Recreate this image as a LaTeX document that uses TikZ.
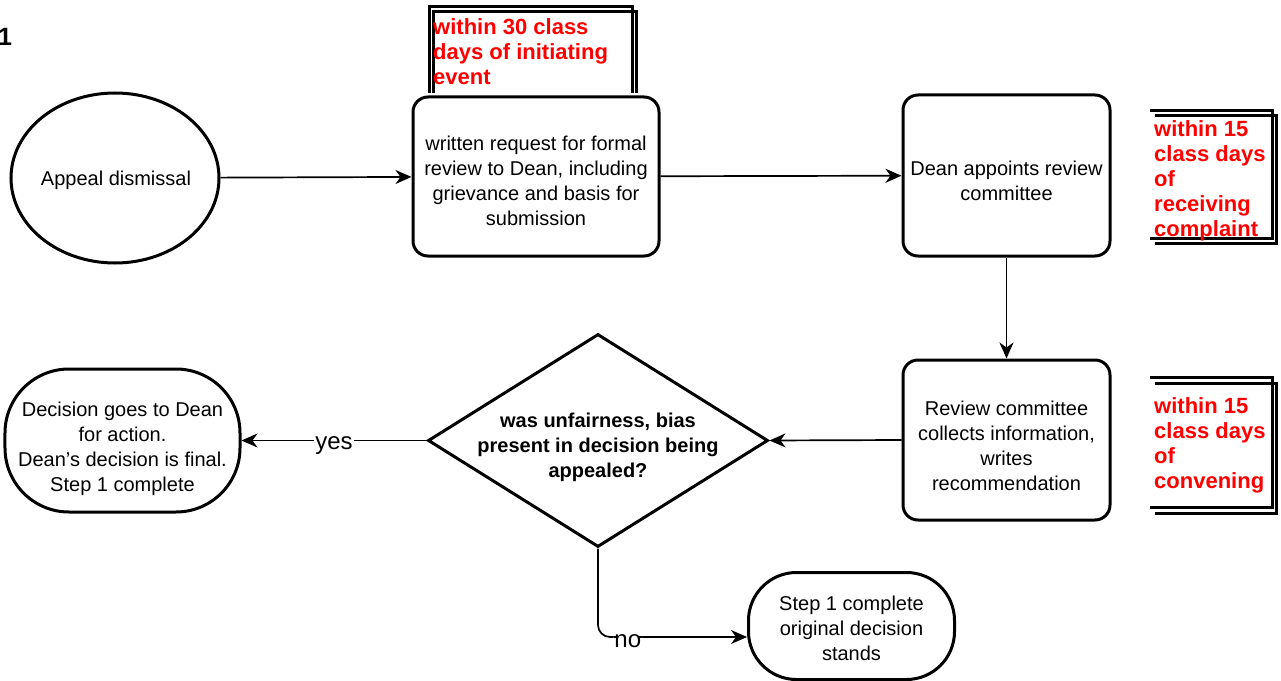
\documentclass[tikz,border=0pt]{standalone}
\usepackage{fontspec}
\setmainfont{Liberation Sans}
\usetikzlibrary{shapes.geometric,arrows.meta}
\begin{document}
\begin{tikzpicture}[x=1bp,y=-1bp,
  fig/.style={draw, line width=3bp, inner sep=0pt},
  roundbox/.style={fig, rectangle, rounded corners=15bp},
  body/.style={align=center, inner sep=0pt, font=\fontsize{20bp}{25bp}\selectfont},
  note/.style={text=red, font=\bfseries\fontsize{22bp}{25bp}\selectfont, align=left, anchor=west, inner sep=0pt},
  noteline/.style={line width=3bp},
  arr/.style={line width=1.7bp, -{Stealth[length=16bp,width=14bp,inset=5bp]}},
  lbl/.style={fill=white, inner sep=1bp, font=\fontsize{24bp}{28bp}\selectfont}]
\useasboundingbox (0,0) rectangle (1281,681);
\fill[white] (0,0) rectangle (1281,681);

\node[font=\bfseries\fontsize{25bp}{28bp}\selectfont, anchor=west, inner sep=0pt] (num) at (-2,37) {1};

% shapes
\node[fig, ellipse, minimum width=208bp, minimum height=170bp] (appeal) at (115,178) {};
\node[body] (appealt) at (116,180) {Appeal dismissal};
\node[roundbox, minimum width=246bp, minimum height=159bp] (req) at (536,176.5) {};
\node[body] (reqt) at (536,181)
  {written request for formal\\review to Dean, including\\grievance and basis for\\submission};
\node[roundbox, minimum width=207bp, minimum height=161bp] (dean) at (1006.5,175.5) {};
\node[body] (deant) at (1006.5,181) {Dean appoints review\\committee};
\node[roundbox, minimum width=207bp, minimum height=160bp] (rev) at (1006.5,440) {};
\node[body] (revt) at (1006.5,446) {Review committee\\collects information,\\writes\\recommendation};
\node[fig, diamond, minimum width=340bp, minimum height=213bp] (q) at (598,440.5) {};
\node[body, font=\bfseries\fontsize{20bp}{25bp}\selectfont] (qt) at (598,447)
  {was unfairness, bias\\present in decision being\\appealed?};
\node[fig, rectangle, rounded corners=64bp, minimum width=235bp, minimum height=143bp] (yesb) at (122.5,440.5) {};
\node[body] (yest) at (122.5,448.5)
  {Decision goes to Dean\\for action.\\Dean's decision is final.\\Step 1 complete};
\node[fig, rectangle, rounded corners=48bp, minimum width=206bp, minimum height=107bp] (nob) at (851.5,626) {};
\node[body] (nobt) at (851.5,628.5) {Step 1 complete\\original decision\\stands};

% notes
\draw[noteline] (429,93) -- (429,7) -- (632,7) -- (632,93);
\draw[noteline] (433,93) -- (433,12) -- (636,12) -- (636,93);
\node[note] (n1) at (433,52) {within 30 class\\days of initiating\\event};

\draw[noteline] (1150,111) -- (1272,111) -- (1272,238) -- (1150,238);
\draw[noteline] (1155,116) -- (1276,116) -- (1276,243) -- (1155,243);
\node[note] (n2) at (1154,181) {within 15\\class days\\of\\receiving\\complaint};

\draw[noteline] (1150,377) -- (1272,377) -- (1272,507) -- (1150,507);
\draw[noteline] (1155,383) -- (1276,383) -- (1276,513) -- (1155,513);
\node[note] (n3) at (1154,445) {within 15\\class days\\of\\convening};

% connectors
\draw[arr] (appeal) -- (req);
\draw[arr] (req) -- (dean);
\draw[arr] (dean.south) -- (rev.north);
\draw[arr] (rev.west) -- (q.east);
\draw[arr] (q.west) -- (yesb.east) node[lbl, pos=0.5, yshift=-5bp] {yes};
\coordinate (noin) at ([yshift=-11bp]nob.west);
\draw[arr, rounded corners=12bp] (q.south) |- (noin) node[lbl, pos=0.6, yshift=-4bp] {no};
\end{tikzpicture}
\end{document}
